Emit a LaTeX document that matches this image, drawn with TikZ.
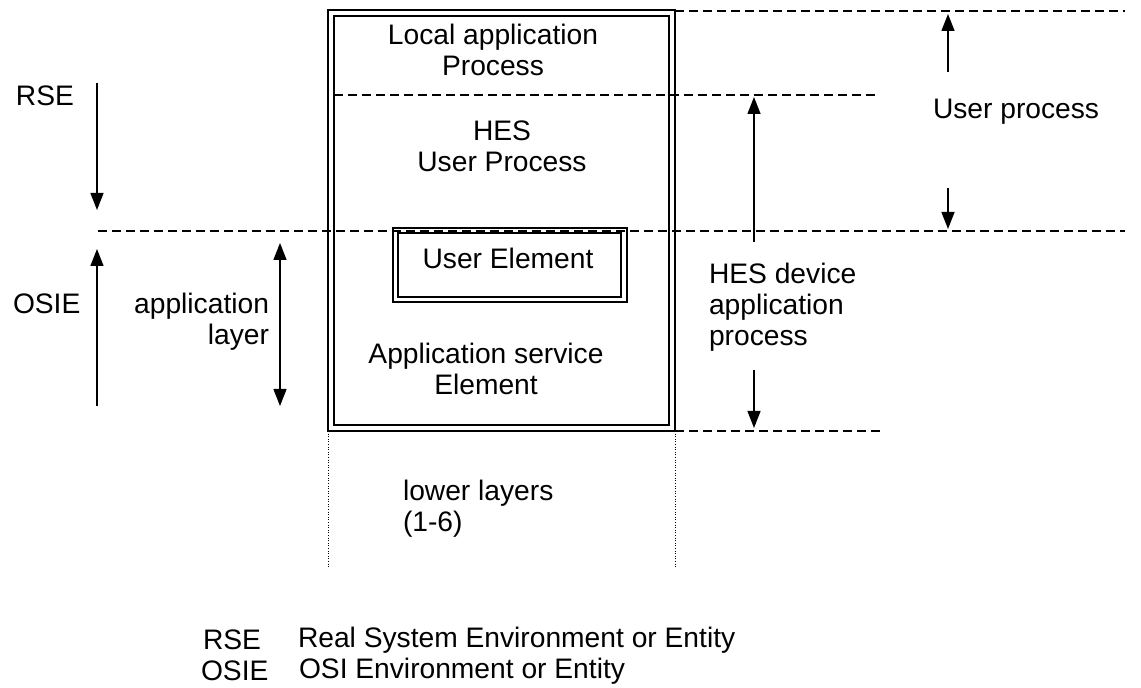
\documentclass[tikz,border=0pt]{standalone}
\usepackage{fontspec}
\setmainfont{Liberation Sans}
\usetikzlibrary{arrows.meta}

\tikzset{
  txt/.style={inner sep=0pt, align=left},
  dashline/.style={dash pattern=on 4.5pt off 2.5pt, line width=0.6pt},
  dotline/.style={dash pattern=on 0.4pt off 0.9pt, line width=0.5pt},
  dimarrow/.style={->, line width=0.7pt}
}

\begin{document}
\begin{tikzpicture}[x=0.5pt,y=-0.5pt,>={Triangle[length=8.5pt,width=6.5pt]},line width=1pt,
  font=\fontsize{14.1}{15.5}\selectfont]
	\useasboundingbox (0,0) rectangle (1141,688);

	% the application process box (double frame)
	\draw (328,10) rectangle (675,431);
	\draw (334,16) rectangle (669,425);
	% user element box (double frame)
	\draw (393,228) rectangle (627,302);
	\draw (398,233) rectangle (621,297);

	% levels
	\coordinate (topL) at (675,11);    \coordinate (topR) at (1125,11);
	\coordinate (hesL) at (334,95);    \coordinate (hesR) at (880,95);
	\coordinate (osiL) at (98,231);    \coordinate (osiR) at (1125,231);
	\coordinate (botL) at (675,431);   \coordinate (botR) at (880,431);
	\draw[dashline] (topL) to (topR);
	\draw[dashline] (hesL) to (hesR);
	\draw[dashline] (osiL) to (osiR);
	\draw[dashline] (botL) to (botR);

	\coordinate (lowA) at (328,431);   \coordinate (lowB) at (328,568);
	\coordinate (lowC) at (675,431);   \coordinate (lowD) at (675,568);
	\draw[dotline] (lowA) to (lowB);
	\draw[dotline] (lowC) to (lowD);

	\node (local) [txt, align=center] at (493,50) {Local application\\Process};
	\node (hesuser) [txt, align=center] at (502,146) {HES\\User Process};
	\node (userel) [txt] at (508,258) {User Element};
	\node (ase) [txt, align=center] at (486,369) {Application service\\Element};
	\node (rse) [txt, anchor=west] at (15,96) {RSE};
	\node (osie) [txt, anchor=west] at (12,304) {OSIE};
	\node (applayer) [txt, anchor=east, align=right] at (270,322) {application\\layer};
	\node (hesdev) [txt, anchor=west] at (708,307) {HES device\\application\\process};
	\node (userproc) [txt, anchor=west] at (932,112) {User process};
	\node (lower) [txt, anchor=west] at (402,509) {lower layers\\(1-6)};

	% arrows
	\coordinate (rseA) at (97,83);    \coordinate (rseB) at (97,210);
	\coordinate (osiA) at (97,406);   \coordinate (osiB) at (97,249);
	\coordinate (alA) at (280,243);   \coordinate (alB) at (280,406);
	\coordinate (hesA) at (754,242);  \coordinate (hesB) at (754,97);
	\coordinate (hesC) at (754,370);  \coordinate (hesD) at (754,428);
	\coordinate (upA) at (948,72);    \coordinate (upB) at (948,14);
	\coordinate (upC) at (948,188);   \coordinate (upD) at (948,229);
	\draw[dimarrow] (rseA) to (rseB);
	\draw[dimarrow] (osiA) to (osiB);
	\draw[dimarrow, <->] (alA) to (alB);
	\draw[dimarrow] (hesA) to (hesB);
	\draw[dimarrow] (hesC) to (hesD);
	\draw[dimarrow] (upA) to (upB);
	\draw[dimarrow] (upC) to (upD);

	% legend
	\node (k1) [txt, anchor=west] at (202,640) {RSE};
	\node (v1) [txt, anchor=west] at (297,640) {Real System Environment or Entity};
	\node (k2) [txt, anchor=west] at (200,671) {OSIE};
	\node (v2) [txt, anchor=west] at (298,671) {OSI Environment or Entity};
\end{tikzpicture}
\end{document}
